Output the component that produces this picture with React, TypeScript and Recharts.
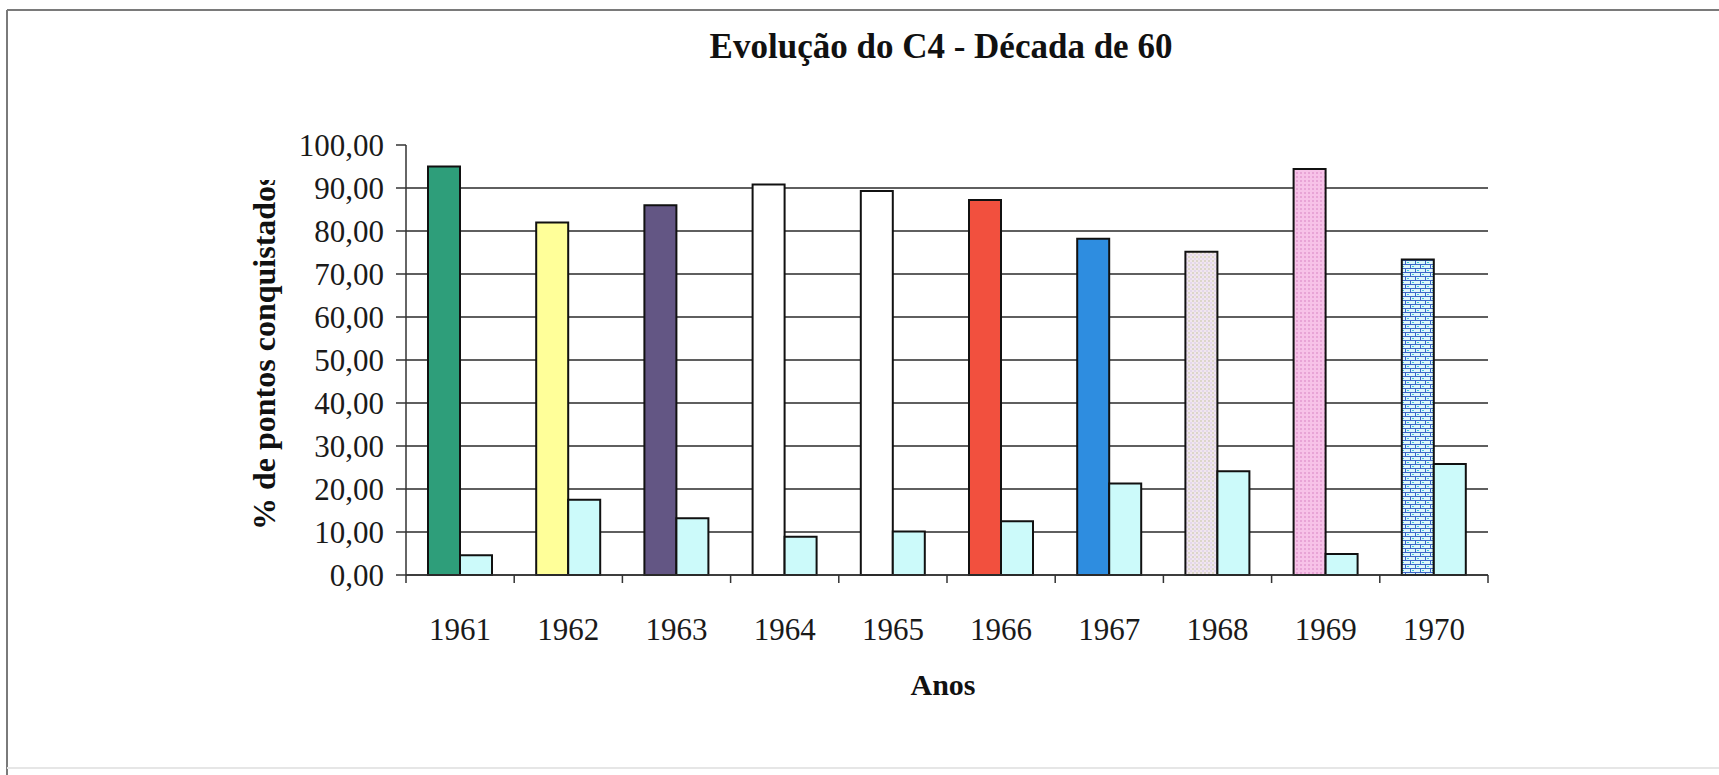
import { BarChart, Bar, XAxis, YAxis, CartesianGrid, Cell } from 'recharts'

const anos = ['1961', '1962', '1963', '1964', '1965', '1966', '1967', '1968', '1969', '1970']
const pontosConquistados = [95, 82, 86, 90.8, 89.3, 87.2, 78.2, 75.2, 94.4, 73.4]
const segundaSerie = [4.6, 17.5, 13.2, 8.9, 10.1, 12.5, 21.3, 24.1, 4.9, 25.8]
const yTicks = [0, 10, 20, 30, 40, 50, 60, 70, 80, 90, 100]
const gridValues = [0, 10, 20, 30, 40, 50, 60, 70, 80, 90]

const barFills = [
  '#2E9E7A',
  '#FFFF99',
  '#635684',
  '#FFFFFF',
  '#FFFFFF',
  '#F2503E',
  '#2E8DE0',
  'url(#dots1968)',
  'url(#dots1969)',
  'url(#brick1970)',
]

const serif = "'Liberation Serif', 'Times New Roman', serif"
const TICK_MARGIN = 43

const data = anos.map((ano, i) => ({ ano, a: pontosConquistados[i], b: segundaSerie[i] }))

const fmt = (v: number) => v.toFixed(2).replace('.', ',')

// year label plus the small tick marks that sit on the category boundaries
const YearTick = (props: any) => {
  const { x, y, payload, index, width, visibleTicksCount } = props
  const half = payload && payload.offset ? payload.offset : width / visibleTicksCount / 2
  const y0 = y - TICK_MARGIN
  const last = index === visibleTicksCount - 1
  return (
    <g>
      <line x1={x - half} y1={y0} x2={x - half} y2={y0 + 8} stroke="#333" strokeWidth={1.5} />
      {last && <line x1={x + half} y1={y0} x2={x + half} y2={y0 + 8} stroke="#333" strokeWidth={1.5} />}
      <text x={x} y={y} dy="0.71em" textAnchor="middle" fontFamily={serif} fontSize={31} fill="#1a1a1a">
        {payload.value}
      </text>
    </g>
  )
}

export default function App() {
  return (
    <div style={{ position: 'absolute', left: 0, top: 0, width: 1719, height: 775, background: '#fff', overflow: 'hidden' }}>
      <BarChart
        width={1719}
        height={775}
        data={data}
        margin={{ top: 145, right: 231, bottom: 0, left: 0 }}
        barGap={0}
      >
        <defs>
          <pattern id="dots1968" width="4" height="4" patternUnits="userSpaceOnUse">
            <rect width="4" height="4" fill="#F1E6EE" />
            <rect width="2" height="2" fill="#DCD6CA" />
            <rect x="2" y="2" width="2" height="2" fill="#E4D8EA" />
          </pattern>
          <pattern id="dots1969" width="4" height="4" patternUnits="userSpaceOnUse">
            <rect width="4" height="4" fill="#F7C2E8" />
            <rect width="2" height="2" fill="#E8A4D6" />
          </pattern>
          <pattern id="brick1970" width="10" height="8" patternUnits="userSpaceOnUse">
            <rect width="10" height="8" fill="#DDF6FA" />
            <path d="M0 0.5H10M0 4.5H10M0.5 0V4M5.5 4V8" stroke="#3A66C8" strokeWidth="1" />
            <rect x="2" y="2" width="2" height="1" fill="#40C8D8" />
            <rect x="7" y="6" width="2" height="1" fill="#40C8D8" />
          </pattern>
        </defs>
        <CartesianGrid vertical={false} horizontalValues={gridValues} stroke="#2a2a2a" strokeWidth={1.5} />
        <XAxis
          dataKey="ano"
          height={200}
          axisLine={{ stroke: '#333', strokeWidth: 1.5 }}
          tickLine={false}
          tickSize={0}
          tickMargin={TICK_MARGIN}
          interval={0}
          tick={<YearTick />}
        />
        <YAxis
          width={406}
          domain={[0, 100]}
          ticks={yTicks}
          interval={0}
          tickFormatter={fmt}
          tickSize={10}
          tickMargin={12}
          axisLine={{ stroke: '#333', strokeWidth: 1.5 }}
          tickLine={{ stroke: '#333', strokeWidth: 1.5 }}
          tick={{ fontFamily: serif, fontSize: 31, fill: '#1a1a1a' }}
        />
        <YAxis
          yAxisId="borda"
          orientation="right"
          width={0}
          domain={[0, 100]}
          tick={false}
          tickLine={false}
          axisLine={{ stroke: '#9a9a9a', strokeWidth: 1.5 }}
        />
        <Bar dataKey="a" barSize={32} stroke="#111" strokeWidth={2} isAnimationActive={false}>
          {data.map((d, i) => (
            <Cell key={d.ano} fill={barFills[i]} />
          ))}
        </Bar>
        <Bar dataKey="b" barSize={32} fill="#CCFAFA" stroke="#111" strokeWidth={2} isAnimationActive={false} />
      </BarChart>

      <svg width={1719} height={775} style={{ position: 'absolute', left: 0, top: 0, pointerEvents: 'none' }}>
        <defs>
          <clipPath id="ylabClip">
            <rect x={220} y={180} width={90} height={400} />
          </clipPath>
        </defs>
        <line x1={7} y1={10} x2={1719} y2={10} stroke="#7a7a7a" strokeWidth={2} />
        <line x1={7} y1={10} x2={7} y2={775} stroke="#7a7a7a" strokeWidth={2} />
        <line x1={7} y1={768} x2={1719} y2={768} stroke="#e6e6e6" strokeWidth={2} />
        <text x={941} y={58} textAnchor="middle" fontFamily={serif} fontWeight="bold" fontSize={35} fill="#111">
          Evolução do C4 - Década de 60
        </text>
        <text x={943} y={695} textAnchor="middle" fontFamily={serif} fontWeight="bold" fontSize={30} fill="#111">
          Anos
        </text>
        <g clipPath="url(#ylabClip)">
          <text
            x={275}
            y={530}
            transform="rotate(-90 275 530)"
            textAnchor="start"
            fontFamily={serif}
            fontWeight="bold"
            fontSize={32}
            fill="#111"
          >
            % de pontos conquistados
          </text>
        </g>
      </svg>
    </div>
  )
}
